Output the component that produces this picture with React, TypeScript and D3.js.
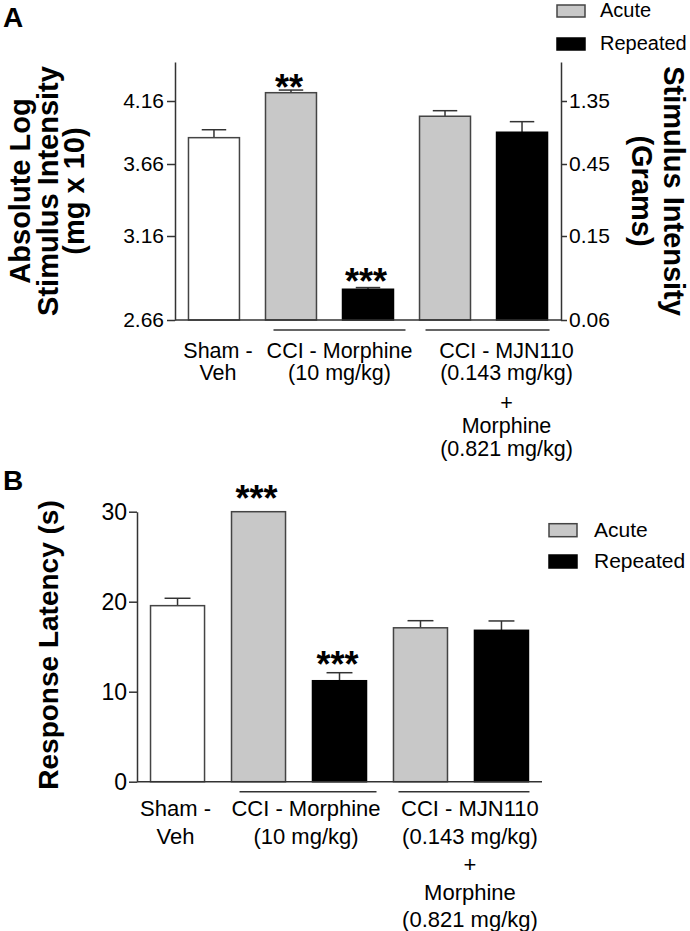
import React, { useEffect, useRef } from "react";
import * as d3 from "d3";

// ---------- data ----------
const categories = [
  "Sham - Veh",
  "CCI - Morphine Acute",
  "CCI - Morphine Repeated",
  "CCI - MJN110 + Morphine Acute",
  "CCI - MJN110 + Morphine Repeated",
];
const regimen = ["Sham", "Acute", "Repeated", "Acute", "Repeated"];

// Panel A: absolute log stimulus intensity (mg x 10)
const meansA = [3.869, 4.226, 2.843, 4.039, 3.912];
const semA = [0.063, 0.021, 0.01, 0.044, 0.084];
const starsA = ["", "**", "***", "", ""];
const ticksALeft = [2.66, 3.16, 3.66, 4.16];
const ticksARight = ["0.06", "0.15", "0.45", "1.35"];

// Panel B: response latency (s)
const meansB = [19.56, 30, 11.22, 17.1, 16.82];
const semB = [0.82, 0, 0.89, 0.79, 1.04];
const starsB = ["", "***", "***", "", ""];
const ticksB = [0, 10, 20, 30];

const legendItems = ["Acute", "Repeated"];
const groupLabels = [
  ["Sham -", "Veh"],
  ["CCI - Morphine", "(10 mg/kg)"],
  ["CCI - MJN110", "(0.143 mg/kg)", "+", "Morphine", "(0.821 mg/kg)"],
];
const groupMembers = [[0], [1, 2], [3, 4]];

const FILL: Record<string, string> = { Sham: "#ffffff", Acute: "#c8c8c8", Repeated: "#000000" };
const FONT = "'Liberation Sans', Arial, Helvetica, sans-serif";
const AXIS = "#333333";
const TXT = "#000";

type PanelCfg = {
  x: d3.ScaleBand<number>;
  y: d3.ScaleLinear<number, number>;
  means: number[];
  sems: number[];
  stars: string[];
  starDy: number[];
  baseY: number;
  lineOffsets: number[][];
  labelShift: number[];
  labelBaselines: number[];
  labelSize: number;
};

function Bars({ cfg }: { cfg: PanelCfg }) {
  const { x, y, means, sems, stars, starDy, baseY } = cfg;
  const bw = x.bandwidth();
  return (
    <g>
      {means.map((m, i) => {
        const x0 = x(i) as number;
        const top = y(m);
        const errTop = y(m + sems[i]);
        const cx = x0 + bw / 2;
        const fill = FILL[regimen[i]];
        return (
          <g key={i}>
            {sems[i] > 0 && (
              <g stroke={AXIS} strokeWidth={1.5}>
                <line x1={cx} x2={cx} y1={top} y2={errTop} />
                <line x1={cx - bw * 0.24} x2={cx + bw * 0.24} y1={errTop} y2={errTop} />
              </g>
            )}
            <rect
              x={x0}
              y={top}
              width={bw}
              height={baseY - top}
              fill={fill}
              stroke={fill === "#000000" ? "#000" : "#444"}
              strokeWidth={1.5}
            />
            {stars[i] && (
              <text
                x={cx - 2}
                y={errTop + starDy[i]}
                textAnchor="middle"
                fontFamily={FONT}
                fontWeight="bold"
                fontSize={36}
                fill={TXT}
              >
                {stars[i]}
              </text>
            )}
          </g>
        );
      })}
    </g>
  );
}

function GroupLabels({ cfg }: { cfg: PanelCfg }) {
  const { x, baseY, lineOffsets, labelShift, labelBaselines, labelSize } = cfg;
  const bw = x.bandwidth();
  return (
    <g fontFamily={FONT} fontSize={labelSize} fill={TXT}>
      {groupMembers.map((mem, gi) => {
        const first = x(mem[0]) as number;
        const last = (x(mem[mem.length - 1]) as number) + bw;
        const center = (first + last) / 2 + labelShift[gi];
        return (
          <g key={gi}>
            {mem.length > 1 && (
              <line
                x1={first + lineOffsets[gi][0]}
                x2={last + lineOffsets[gi][1]}
                y1={baseY + 10}
                y2={baseY + 10}
                stroke={AXIS}
                strokeWidth={1.5}
              />
            )}
            {groupLabels[gi].map((t, li) => (
              <text key={li} x={center} y={labelBaselines[li]} textAnchor="middle">
                {t}
              </text>
            ))}
          </g>
        );
      })}
    </g>
  );
}

function Legend({ x, y0, y1, h, textX, size }: { x: number; y0: number; y1: number; h: number; textX: number; size: number }) {
  const ys = [y0, y1];
  return (
    <g fontFamily={FONT} fontSize={size} fill={TXT}>
      {legendItems.map((k, i) => (
        <g key={k}>
          <rect x={x} y={ys[i] - h} width={28} height={h} fill={FILL[k]} stroke={k === "Repeated" ? "#000" : "#444"} strokeWidth={1.5} />
          <text x={textX} y={ys[i]}>{k}</text>
        </g>
      ))}
    </g>
  );
}

export default function App() {
  const axLA = useRef<SVGGElement>(null);
  const axRA = useRef<SVGGElement>(null);
  const axLB = useRef<SVGGElement>(null);

  // Panel A scales
  const xA = d3.scaleBand<number>().domain(d3.range(5)).range([175, 561]).paddingInner(0.338).paddingOuter(0.175);
  const yA = d3.scaleLinear().domain([2.66, 3.16, 3.66, 4.16, 4.47]).range([320, 236, 164, 101, 62]);
  // Panel B scales
  const xB = d3.scaleBand<number>().domain(d3.range(5)).range([137, 542]).paddingInner(0.333).paddingOuter(0.167);
  const yB = d3.scaleLinear().domain([0, 30]).range([781.7, 511.7]);

  const cfgA: PanelCfg = {
    x: xA,
    y: yA,
    means: meansA,
    sems: semA,
    stars: starsA,
    starDy: [0, 10, 6, 0, 0],
    baseY: 320,
    lineOffsets: [[0, 0], [8, 12], [6, 2]],
    labelShift: [4, 10, 23],
    labelBaselines: [358, 380, 410, 433, 456],
    labelSize: 21.5,
  };
  const cfgB: PanelCfg = {
    x: xB,
    y: yB,
    means: meansB,
    sems: semB,
    stars: starsB,
    starDy: [0, -1, 4, 0, 0],
    baseY: 781.7,
    lineOffsets: [[0, 0], [8, 10], [5, 1]],
    labelShift: [-2, 7, 9],
    labelBaselines: [816, 844, 872, 900, 927],
    labelSize: 22,
  };

  useEffect(() => {
    const style = (g: d3.Selection<SVGGElement, unknown, null, undefined>, size: number) => {
      g.selectAll("path.domain").attr("stroke", AXIS).attr("stroke-width", 1.5);
      g.selectAll(".tick line").attr("stroke", AXIS).attr("stroke-width", 1.5);
      g.selectAll(".tick text").attr("font-family", FONT).attr("font-size", size).attr("fill", TXT);
    };
    if (axLA.current) {
      const g = d3.select(axLA.current);
      g.call(
        d3.axisLeft(yA).tickValues(ticksALeft).tickFormat((d) => d3.format(".2f")(d as number)).tickSize(8).tickSizeOuter(0).tickPadding(3)
      );
      style(g, 21);
    }
    if (axRA.current) {
      const g = d3.select(axRA.current);
      g.call(
        d3.axisRight(yA).tickValues(ticksALeft).tickFormat((_d, i) => ticksARight[i]).tickSize(6).tickSizeOuter(0).tickPadding(2)
      );
      style(g, 21);
    }
    if (axLB.current) {
      const g = d3.select(axLB.current);
      g.call(d3.axisLeft(yB).tickValues(ticksB).tickSize(8).tickSizeOuter(0).tickPadding(2));
      style(g, 23);
    }
  }, []);

  return (
    <svg
      width={690}
      height={931}
      style={{ position: "absolute", left: 0, top: 0, background: "#fff" }}
      fontFamily={FONT}
    >
      <rect width={690} height={931} fill="#fff" />
      {/* ---------- Panel A ---------- */}
      <text x={3} y={27} fontSize={28} fontWeight="bold" fill={TXT}>A</text>
      <Legend x={557} y0={17} y1={50} h={12} textX={600} size={20} />
      <Bars cfg={cfgA} />
      <line x1={175} x2={561} y1={320} y2={320} stroke={AXIS} strokeWidth={1.5} />
      <g ref={axLA} transform="translate(175,0)" />
      <g ref={axRA} transform="translate(561,0)" />
      <GroupLabels cfg={cfgA} />
      <g fontFamily={FONT} fontWeight="bold" fontSize={29} fill={TXT} textAnchor="middle">
        <text transform="translate(30,191) rotate(-90)">Absolute Log</text>
        <text transform="translate(57.5,191) rotate(-90)">Stimulus Intensity</text>
        <text transform="translate(84,191) rotate(-90)">(mg x 10)</text>
        <text transform="translate(664,191) rotate(90)">Stimulus Intensity</text>
        <text transform="translate(632,191) rotate(90)">(Grams)</text>
      </g>

      {/* ---------- Panel B ---------- */}
      <text x={3} y={490} fontSize={28} fontWeight="bold" fill={TXT}>B</text>
      <Legend x={549} y0={536.7} y1={568} h={13} textX={594} size={21} />
      <Bars cfg={cfgB} />
      <line x1={137} x2={542} y1={781.7} y2={781.7} stroke={AXIS} strokeWidth={1.5} />
      <g ref={axLB} transform="translate(137,0)" />
      <GroupLabels cfg={cfgB} />
      <text
        transform="translate(58,645) rotate(-90)"
        textAnchor="middle"
        fontFamily={FONT}
        fontWeight="bold"
        fontSize={28}
        fill={TXT}
      >
        Response Latency (s)
      </text>
    </svg>
  );
}
